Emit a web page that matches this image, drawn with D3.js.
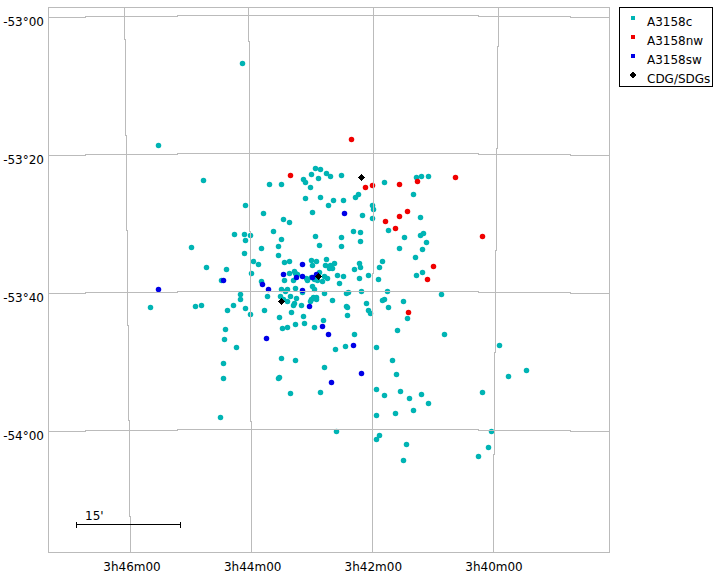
<!DOCTYPE html>
<html><head><meta charset="utf-8">
<script src="https://cdnjs.cloudflare.com/ajax/libs/d3/7.8.5/d3.min.js"></script>
<style>
html,body{margin:0;padding:0;background:#fff}
svg{display:block}
text{font-family:"DejaVu Sans",sans-serif;font-size:12px;fill:#000}
</style></head><body>
<svg id="c" width="716" height="576"></svg>
<script>
// Each point: [RA in seconds of time after 3h00m00, Dec in arcmin south of -53°00]
const a3158c = [[2647.6,6.96],[2729.7,18.84],[2685.7,23.91],[2697.4,33.62],[2682.7,36.52],[2663.2,36.81],[2668.1,38.41],
[2576.2,22.17],[2571.3,22.32],[2580.1,23.04],[2565.5,22.90],[2561.6,23.33],[2588.0,23.77],[2586.0,24.20],[2573.3,23.62],[2550.8,23.19],
[2621.2,24.49],[2609.5,24.49],[2581.1,24.93],[2586.0,26.52],[2571.3,26.38],[2558.6,26.81],[2563.5,27.54],[2644.7,27.54],[2627.1,28.70],
[2579.2,28.55],[2607.5,29.57],[2601.7,30.00],[2617.3,31.30],[2655.4,31.74],[2645.7,31.74],[2639.8,31.88],[2644.7,32.61],[2609.5,32.46],
[2576.2,32.03],[2612.4,33.48],[2572.3,33.33],[2629.0,33.77],[2645.7,34.49],[2612.4,34.78],[2550.8,32.17],[2550.8,33.48],[2534.2,25.94],
[2537.1,26.38],[2548.8,26.81],[2539.1,31.30],[2508.7,24.20],[2477.5,23.48],[2472.6,23.33],[2465.7,23.33],[2480.4,25.94],[2520.5,27.54],
[2519.5,28.12],[2520.5,29.42],[2530.3,28.99],[2473.5,29.28],[2504.8,31.16],[2473.5,31.88],[2470.6,31.59],[2489.2,32.17],[2532.2,31.45],
[2532.2,32.75],[2467.7,32.90],[2494.1,33.77],[2471.6,33.91],[2478.4,35.07],[2510.7,35.65],[2513.6,36.52],[2471.6,37.25],[2477.5,37.68],
[2524.4,37.68],[2514.6,38.26],[2532.2,36.52],[2533.2,35.94],[2533.2,38.12],[2538.1,36.81],[2548.8,37.83],[2552.7,38.84],[2531.2,40.00],
[2505.8,40.00],[2543.9,40.15],[2545.9,40.29],[2453.0,40.44],[2508.7,41.16],[2510.7,41.31],[2490.2,41.45],[2526.4,41.74],[2504.8,42.32],
[2545.9,42.17],[2544.9,42.32],[2524.4,42.75],[2522.4,43.19],[2544.9,43.48],[2486.3,43.91],[2496.0,45.65],[2450.1,46.23],[2538.1,46.23],
[2396.3,47.83],[2516.6,48.12],[2500.9,50.00],[2369.9,51.45],[2387.5,52.32],[2497.0,52.03],[2412.9,54.64],[2516.6,54.20],[2508.7,55.07],
[2493.1,54.49],[2484.3,55.51],[2472.6,54.93],[2465.7,56.23],[2480.4,57.25],[2498.0,57.68],[2516.6,57.97],[2404.1,60.29],[2513.6,60.87],
[2516.6,61.45],[2487.2,62.18],[2407.0,62.61],[2416.8,63.91],[2490.2,64.49],[2636.9,35.65],[2632.0,36.09],[2606.5,35.80],[2601.7,35.65],
[2580.1,35.51],[2575.3,35.65],[2565.5,35.36],[2579.2,36.23],[2566.5,36.23],[2562.5,36.67],[2559.6,36.67],[2557.6,35.94],[2561.6,36.23],
[2638.8,37.39],[2601.7,37.39],[2596.8,37.10],[2595.8,37.39],[2593.8,37.54],[2585.0,38.12],[2584.0,38.41],[2580.1,37.97],[2577.2,38.26],
[2574.3,38.41],[2569.4,38.55],[2567.4,37.83],[2564.5,38.12],[2554.7,37.68],[2572.3,37.25],[2629.0,38.55],[2606.5,38.41],[2597.7,38.41],
[2579.2,39.28],[2577.2,39.71],[2609.5,39.71],[2603.6,39.71],[2595.8,39.57],[2649.6,40.44],[2567.4,40.29],[2649.6,41.16],[2623.2,40.73],
[2610.5,40.73],[2600.7,40.73],[2594.8,41.02],[2607.5,41.16],[2603.6,41.45],[2580.1,41.16],[2578.2,40.87],[2575.3,40.87],[2575.3,41.16],
[2581.1,41.45],[2559.6,41.31],[2596.8,41.74],[2597.7,42.03],[2589.9,42.03],[2656.4,42.03],[2644.7,42.46],[2662.2,42.75],[2626.1,42.75],
[2599.7,43.04],[2639.8,43.33],[2611.4,43.77],[2588.0,43.62],[2568.4,44.20],[2586.9,44.64],[2595.8,44.78],[2608.5,45.36],[2603.6,45.22],
[2577.2,45.22],[2664.2,45.51],[2665.2,46.96],[2737.5,42.32],[2693.5,42.17],[2687.6,42.03],[2653.5,48.12],[2666.2,50.44],[2666.2,52.61],
[2669.1,58.26],[2609.5,49.71],[2595.8,50.00],[2567.4,51.01],[2612.4,52.61],[2611.4,52.46],[2600.6,54.78],[2571.3,54.64],[2555.7,60.29],
[2546.9,47.97],[2556.7,48.41],[2588.9,40.15],[2605.5,40.00]];
const a3158nw = [[2541.0,17.97],[2600.7,23.19],[2527.3,24.93],[2520.5,24.64],[2494.1,24.49],[2476.5,24.06],[2439.3,23.48],[2486.3,28.41],
[2494.1,29.13],[2507.8,29.86],[2498.0,30.87],[2412.9,32.03],[2460.8,36.38],[2466.7,38.26],[2485.3,43.04]];
const a3158sw = [[2729.7,39.71],[2666.2,38.41],[2547.9,28.70],[2588.9,36.09],[2607.5,37.54],[2594.8,37.97],[2588.9,37.83],[2579.2,37.97],
[2575.3,37.54],[2628.0,38.99],[2622.2,39.71],[2588.9,39.86],[2582.1,42.17],[2569.4,45.07],[2563.5,46.23],[2624.2,46.81],[2539.1,47.83],
[2531.2,51.88],[2560.6,53.19]];
const cdgSdg = [[2531.2,23.48],[2573.3,37.83],[2609.5,41.45]];

const seriesNames = ["A3158c","A3158nw","A3158sw","CDG/SDGs"];
const seriesColors = ["#00b4b4","#f00000","#0000e6","#000000"];
const raTicks = [2760,2640,2520,2400];
const raLabels = ["3h46m00","3h44m00","3h42m00","3h40m00"];
const raLean = [0.0105,0.00526,-0.0028,-0.0098];
const decTicks = [0,20,40,60];
const decLabels = ["-53°00","-53°20","-53°40","-54°00"];

const W = 716, H = 576;
const frame = {l:48, t:7, r:609, b:552};
const svg = d3.select("#c");

// Scales at the field centre, and at the frame edges where the axis labels sit
const x = d3.scaleLinear().domain([2760,2400]).range([127.5,495.73]);
const y = d3.scaleLinear().domain([0,60]).range([15.5,429.5]);
const xBottom = d3.scaleLinear().domain([2760,2400]).range([131.5,493.5]);
const yLeft = d3.scaleLinear().domain([0,60]).range([17.5,431.5]);
const midY = 277, midX = 327;
const snap = v => Math.floor(v)+0.5;

// Points
const series = [a3158c,a3158nw,a3158sw];
series.forEach((pts,i)=>{
  svg.append("g").selectAll("circle").data(pts).join("circle")
    .attr("cx",d=>snap(x(d[0]))).attr("cy",d=>snap(y(d[1]))).attr("r",2.75).attr("fill",seriesColors[i]);
});
const diamond = d3.symbol(d3.symbolDiamond2,34);
svg.append("g").attr("shape-rendering","crispEdges").selectAll("path").data(cdgSdg).join("path")
  .attr("d",diamond).attr("fill",seriesColors[3])
  .attr("transform",d=>`translate(${snap(x(d[0]))},${snap(y(d[1]))})`);

// Grid on top of the points, stepped to whole pixels like the projected original
const grid = svg.append("g").attr("fill","none").attr("stroke","#bbbbbb").attr("stroke-width",1).attr("shape-rendering","crispEdges");
const rows = d3.range(frame.t,frame.b+1);
const cols = d3.range(frame.l,frame.r+1);
const vLine = d3.line().x(d=>d[0]).y(d=>d[1]).curve(d3.curveStepBefore);
const hLine = d3.line().x(d=>d[0]).y(d=>d[1]).curve(d3.curveStepAfter);
raTicks.forEach((ra,i)=>{
  const pts = rows.map(r=>[Math.round(x(ra)-0.5+raLean[i]*(r-midY))+0.5,r+0.5]);
  grid.append("path").attr("d",vLine(pts));
});
decTicks.forEach(dec=>{
  const pts = cols.map(c=>{
    const dd = c-midX;
    return [c+0.5,y(dec)+Math.max(0,Math.round(2.77e-5*dd*dd-0.124))];
  });
  grid.append("path").attr("d",hLine(pts));
});
svg.append("rect").attr("x",frame.l+0.5).attr("y",frame.t+0.5)
  .attr("width",frame.r-frame.l).attr("height",frame.b-frame.t)
  .attr("fill","none").attr("stroke","#bbbbbb").attr("shape-rendering","crispEdges");

// Axis labels
const axB = svg.append("g").attr("transform",`translate(0,${frame.b})`)
  .call(d3.axisBottom(xBottom).tickValues(raTicks).tickSize(0).tickPadding(0).tickFormat((d,i)=>raLabels[i]));
axB.select(".domain").remove();
axB.selectAll("text").attr("y",19).attr("dy",0).style("font-family",'"DejaVu Sans",sans-serif').style("font-size","12px");
const axL = svg.append("g").attr("transform",`translate(${frame.l},0)`)
  .call(d3.axisLeft(yLeft).tickValues(decTicks).tickSize(0).tickFormat((d,i)=>decLabels[i]));
axL.select(".domain").remove();
axL.selectAll("text").attr("x",-4).attr("dy",7.5).style("font-family",'"DejaVu Sans",sans-serif').style("font-size","12px");

// Scale bar: 15 arcmin of declination
const barY = 524.5, barX0 = 76.5;
const barLen = (y(15)-y(0));
const bar = svg.append("g").attr("stroke","#000").attr("shape-rendering","crispEdges");
bar.append("line").attr("x1",barX0).attr("x2",barX0+barLen).attr("y1",barY).attr("y2",barY);
[barX0,barX0+barLen].forEach(px=>bar.append("line").attr("x1",px).attr("x2",px).attr("y1",barY-3).attr("y2",barY+3));
svg.append("text").attr("x",85).attr("y",520).text("15'");

// Legend
const lg = svg.append("g");
lg.append("rect").attr("x",619.5).attr("y",7.5).attr("width",93).attr("height",79)
  .attr("fill","#fff").attr("stroke","#000").attr("shape-rendering","crispEdges");
seriesNames.forEach((n,i)=>{
  const cy = 18.5+i*19;
  if(i<3){
    lg.append("rect").attr("x",631).attr("y",cy-2.5).attr("width",4).attr("height",4)
      .attr("fill",seriesColors[i]).attr("shape-rendering","crispEdges");
  } else {
    lg.append("path").attr("d",diamond).attr("fill",seriesColors[3]).attr("shape-rendering","crispEdges")
      .attr("transform",`translate(633,${cy-0.5})`);
  }
  lg.append("text").attr("x",647).attr("y",26+i*19).text(n);
});
</script>
</body></html>
